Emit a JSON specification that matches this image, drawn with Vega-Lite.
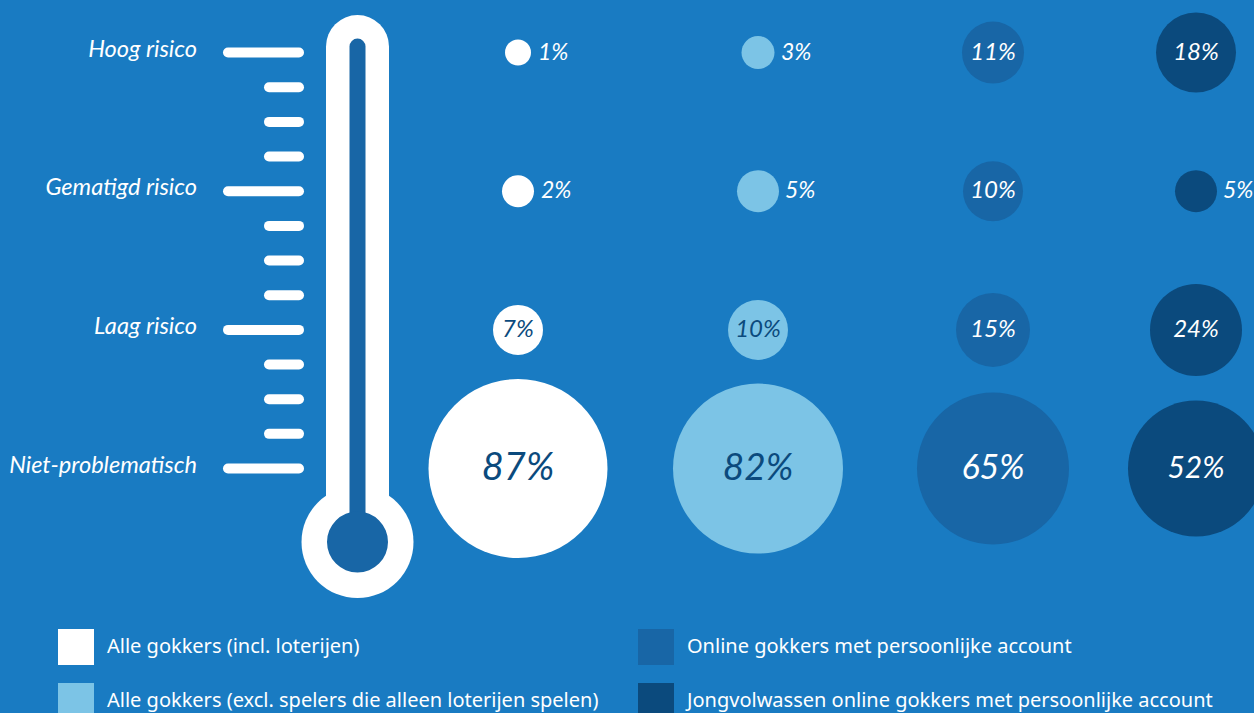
{
"$schema":"https://vega.github.io/schema/vega-lite/v6.json",
"width":1254,"height":713,"padding":0,"autosize":{"type":"none"},
"background":"#197bc2",
"config":{"view":{"stroke":null},"font":"Lato"},
"datasets":{
"scores":[
{"groep":"Alle gokkers (incl. loterijen)","kolom":1,"niveau":3,"aandeel":0.01},
{"groep":"Alle gokkers (incl. loterijen)","kolom":1,"niveau":2,"aandeel":0.02},
{"groep":"Alle gokkers (incl. loterijen)","kolom":1,"niveau":1,"aandeel":0.07},
{"groep":"Alle gokkers (incl. loterijen)","kolom":1,"niveau":0,"aandeel":0.87},
{"groep":"Alle gokkers (excl. spelers die alleen loterijen spelen)","kolom":2,"niveau":3,"aandeel":0.03},
{"groep":"Alle gokkers (excl. spelers die alleen loterijen spelen)","kolom":2,"niveau":2,"aandeel":0.05},
{"groep":"Alle gokkers (excl. spelers die alleen loterijen spelen)","kolom":2,"niveau":1,"aandeel":0.10},
{"groep":"Alle gokkers (excl. spelers die alleen loterijen spelen)","kolom":2,"niveau":0,"aandeel":0.82},
{"groep":"Online gokkers met persoonlijke account","kolom":3,"niveau":3,"aandeel":0.11},
{"groep":"Online gokkers met persoonlijke account","kolom":3,"niveau":2,"aandeel":0.10},
{"groep":"Online gokkers met persoonlijke account","kolom":3,"niveau":1,"aandeel":0.15},
{"groep":"Online gokkers met persoonlijke account","kolom":3,"niveau":0,"aandeel":0.65},
{"groep":"Jongvolwassen online gokkers met persoonlijke account","kolom":4,"niveau":3,"aandeel":0.18},
{"groep":"Jongvolwassen online gokkers met persoonlijke account","kolom":4,"niveau":2,"aandeel":0.05},
{"groep":"Jongvolwassen online gokkers met persoonlijke account","kolom":4,"niveau":1,"aandeel":0.24},
{"groep":"Jongvolwassen online gokkers met persoonlijke account","kolom":4,"niveau":0,"aandeel":0.52}
],
"schaal":[
{"niveau":0,"label":"Niet-problematisch","soort":"hoofd"},
{"niveau":0.25,"soort":"tussen"},{"niveau":0.5,"soort":"tussen"},{"niveau":0.75,"soort":"tussen"},
{"niveau":1,"label":"Laag risico","soort":"hoofd"},
{"niveau":1.25,"soort":"tussen"},{"niveau":1.5,"soort":"tussen"},{"niveau":1.75,"soort":"tussen"},
{"niveau":2,"label":"Gematigd risico","soort":"hoofd"},
{"niveau":2.25,"soort":"tussen"},{"niveau":2.5,"soort":"tussen"},{"niveau":2.75,"soort":"tussen"},
{"niveau":3,"label":"Hoog risico","soort":"hoofd"}
],
"buis":[{"van":-0.526,"tot":3.043}],
"bol":[{"niveau":-0.53}]
},
"encoding":{
"y":{"field":"niveau","type":"quantitative","axis":null,"scale":{"domain":[-1.763,3.379],"nice":false,"zero":false}}
},
"layer":[
{"data":{"name":"schaal"},"transform":[{"filter":"datum.soort=='hoofd'"}],
 "mark":{"type":"rule","color":"white","strokeWidth":10,"strokeCap":"round"},
 "encoding":{"x":{"datum":228,"type":"quantitative","axis":null,"scale":{"domain":[0,1254],"nice":false,"zero":false}},"x2":{"datum":299}}},
{"data":{"name":"schaal"},"transform":[{"filter":"datum.soort=='tussen'"}],
 "mark":{"type":"rule","color":"white","strokeWidth":10,"strokeCap":"round"},
 "encoding":{"x":{"datum":269,"type":"quantitative","axis":null,"scale":{"domain":[0,1254],"nice":false,"zero":false}},"x2":{"datum":299}}},
{"data":{"name":"schaal"},"transform":[{"filter":"datum.soort=='hoofd'"}],
 "mark":{"type":"text","align":"right","baseline":"middle","color":"white","fontStyle":"italic","font":"Lato","fontSize":23.6,"dy":-3},
 "encoding":{"x":{"datum":197,"type":"quantitative","axis":null,"scale":{"domain":[0,1254],"nice":false,"zero":false}},"text":{"field":"label"}}},
{"data":{"name":"buis"},
 "mark":{"type":"rule","color":"white","strokeWidth":63,"strokeCap":"round"},
 "encoding":{"x":{"datum":357.5,"type":"quantitative","axis":null,"scale":{"domain":[0,1254],"nice":false,"zero":false}},"y":{"field":"van","type":"quantitative"},"y2":{"field":"tot"}}},
{"data":{"name":"bol"},
 "mark":{"type":"point","shape":"circle","filled":true,"color":"white","opacity":1,"size":12544},
 "encoding":{"x":{"datum":357.5,"type":"quantitative","axis":null,"scale":{"domain":[0,1254],"nice":false,"zero":false}}}},
{"data":{"name":"buis"},
 "mark":{"type":"rule","color":"#1866a6","strokeWidth":16,"strokeCap":"round"},
 "encoding":{"x":{"datum":357.5,"type":"quantitative","axis":null,"scale":{"domain":[0,1254],"nice":false,"zero":false}},"y":{"field":"van","type":"quantitative"},"y2":{"field":"tot"}}},
{"data":{"name":"bol"},
 "mark":{"type":"point","shape":"circle","filled":true,"color":"#1866a6","opacity":1,"size":3721},
 "encoding":{"x":{"datum":357.5,"type":"quantitative","axis":null,"scale":{"domain":[0,1254],"nice":false,"zero":false}}}},
{"data":{"name":"scores"},
 "mark":{"type":"point","shape":"circle","filled":true,"opacity":1,"stroke":null},
 "encoding":{
  "x":{"field":"kolom","type":"quantitative","axis":null,"scale":{"domain":[1,2,3,4],"range":[518,758,993,1196],"nice":false,"zero":false}},
  "size":{"field":"aandeel","type":"quantitative","legend":null,"scale":{"domain":[0.01,0.02,0.03,0.05,0.07,0.10,0.11,0.15,0.18,0.24,0.52,0.65,0.82,0.87],"range":[676,1024,1089,1764,2500,3600,3844,5476,6400,8464,18496,23104,28900,32041],"zero":false}},
  "color":{"field":"groep","type":"nominal",
   "scale":{"domain":["Alle gokkers (incl. loterijen)","Alle gokkers (excl. spelers die alleen loterijen spelen)","Online gokkers met persoonlijke account","Jongvolwassen online gokkers met persoonlijke account"],"range":["#ffffff","#7cc4e6","#1866a6","#0b4a7d"]},
   "legend":{"title":null,"orient":"none","legendX":58,"legendY":629,"direction":"vertical","columns":2,"columnPadding":39,"rowPadding":18,"padding":0,"symbolType":"square","symbolSize":1296,"symbolStrokeWidth":0,"symbolOpacity":1,"labelOffset":13,"labelFontSize":20,"labelColor":"white","labelFont":"Noto Sans","labelLimit":600,"labelFontWeight":"normal"}
  }
 }},
{"data":{"name":"scores"},"transform":[{"filter":"datum.aandeel>0.05"}],
 "mark":{"type":"text","align":"center","baseline":"middle","fontStyle":"italic","dy":0},
 "encoding":{
  "x":{"field":"kolom","type":"quantitative","axis":null,"scale":{"domain":[1,2,3,4],"range":[518,758,993,1196],"nice":false,"zero":false}},
  "text":{"field":"aandeel","type":"quantitative","format":".0%"},
  "size":{"field":"aandeel","type":"quantitative","legend":null,"scale":{"domain":[0.07,0.24,0.52,0.65,0.82,0.87],"range":[24,24,30,34,37,38],"zero":false}},
  "color":{"condition":{"test":"datum.kolom<=2","value":"#0b4a7d"},"value":"white"}
 }},
{"data":{"name":"scores"},"transform":[{"filter":"datum.aandeel==0.01"}],
 "mark":{"type":"text","align":"left","baseline":"middle","fontStyle":"italic","fontSize":23,"color":"white","dx":20},
 "encoding":{
  "x":{"field":"kolom","type":"quantitative","axis":null,"scale":{"domain":[1,2,3,4],"range":[518,758,993,1196],"nice":false,"zero":false}},
  "text":{"field":"aandeel","type":"quantitative","format":".0%"}
 }},
{"data":{"name":"scores"},"transform":[{"filter":"datum.aandeel==0.02||datum.aandeel==0.03"}],
 "mark":{"type":"text","align":"left","baseline":"middle","fontStyle":"italic","fontSize":23,"color":"white","dx":23},
 "encoding":{
  "x":{"field":"kolom","type":"quantitative","axis":null,"scale":{"domain":[1,2,3,4],"range":[518,758,993,1196],"nice":false,"zero":false}},
  "text":{"field":"aandeel","type":"quantitative","format":".0%"}
 }},
{"data":{"name":"scores"},"transform":[{"filter":"datum.aandeel==0.05"}],
 "mark":{"type":"text","align":"left","baseline":"middle","fontStyle":"italic","fontSize":23,"color":"white","dx":27},
 "encoding":{
  "x":{"field":"kolom","type":"quantitative","axis":null,"scale":{"domain":[1,2,3,4],"range":[518,758,993,1196],"nice":false,"zero":false}},
  "text":{"field":"aandeel","type":"quantitative","format":".0%"}
 }}
],
"resolve":{"scale":{"x":"independent","size":"independent"}}
}
